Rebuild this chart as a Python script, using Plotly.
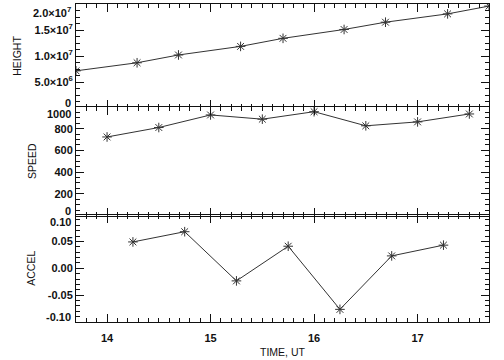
import plotly.graph_objects as go
from plotly.subplots import make_subplots

# ---- data ----
height_time = [13.70, 14.29, 14.69, 15.29, 15.70, 16.29, 16.69, 17.29, 17.69]
height_val = [7.15e6, 8.7e6, 1.02e7, 1.185e7, 1.34e7, 1.51e7, 1.65e7, 1.81e7, 1.96e7]

speed_time = [14.0, 14.5, 15.0, 15.5, 16.0, 16.5, 17.0, 17.5]
speed_val = [724, 811, 927, 888, 957, 827, 863, 936]

accel_time = [14.25, 14.75, 15.25, 15.75, 16.25, 16.75, 17.25]
accel_val = [0.049, 0.068, -0.0235, 0.041, -0.0765, 0.023, 0.043]

x_ticks = [14, 15, 16, 17]
height_ticks = [0, 5e6, 1e7, 1.5e7, 2e7]
height_labels = ["0", "5.0×10<sup>6</sup>", "1.0×10<sup>7</sup>", "1.5×10<sup>7</sup>", "2.0×10<sup>7</sup>"]
speed_ticks = [0, 200, 400, 600, 800, 1000]
speed_labels = ["0", "200", "400", "600", "800", "1000"]
accel_ticks = [-0.10, -0.05, 0.0, 0.05, 0.10]
accel_labels = ["-0.10", "-0.05", "0.00", "0.05", "0.10"]

FONT = "Liberation Sans"
INK = "#111111"
LINE = "#333333"
TICKFONT = dict(family=FONT, size=11, color=INK, weight="bold")
TITLEFONT = dict(family=FONT, size=10.5, color=INK)

fig = make_subplots(rows=3, cols=1, shared_xaxes=True, vertical_spacing=0)

series = [(height_time, height_val), (speed_time, speed_val), (accel_time, accel_val)]
for i, (t, v) in enumerate(series, start=1):
    fig.add_trace(go.Scatter(
        x=t, y=v, mode="lines+markers",
        line=dict(color=LINE, width=1),
        marker=dict(symbol="asterisk-open", size=8, color=LINE,
                    line=dict(color=LINE, width=1)),
        showlegend=False), row=i, col=1)

H = 321.0
dom = {1: [216 / H, 1.0], 2: [107.5 / H, 217 / H], 3: [0.0, 108.5 / H]}

common_axis = dict(showline=True, linecolor=INK, linewidth=1, mirror="ticks",
                   ticks="inside", ticklen=8, tickcolor=INK, tickwidth=1,
                   showgrid=False, zeroline=False, tickfont=TICKFONT)

for i in (1, 2, 3):
    fig.update_xaxes(row=i, col=1, range=[13.70, 17.69], tickmode="array",
                     tickvals=x_ticks, ticktext=[str(v) for v in x_ticks],
                     minor=dict(tickmode="linear", tick0=0, dtick=0.1, ticklen=4,
                                ticks="inside", tickcolor=INK, showgrid=False),
                     showticklabels=(i == 3), ticklabelstandoff=6, **common_axis)

fig.update_xaxes(row=3, col=1, title=dict(text="TIME, UT", standoff=5, font=TITLEFONT))

axes_spec = [
    (1, [0, 2e7], height_ticks, height_labels, 1.25e6, "HEIGHT", 10),
    (2, [0, 1000], speed_ticks, speed_labels, 50, "SPEED", 15),
    (3, [-0.1, 0.1], accel_ticks, accel_labels, 0.01, "ACCEL", 10),
]
for row, rng, tv, tt, mdt, title, so in axes_spec:
    shown = [""] + tt[1:-1] + [""]
    fig.update_yaxes(row=row, col=1, range=rng, domain=dom[row], tickmode="array",
                     tickvals=tv, ticktext=shown,
                     minor=dict(tickmode="linear", tick0=rng[0], dtick=mdt, ticklen=4,
                                ticks="inside", tickcolor=INK, showgrid=False),
                     title=dict(text=title, standoff=so, font=TITLEFONT),
                     **common_axis)
    # end labels, pushed inside the panel as in the reference
    yname = "y" if row == 1 else f"y{row}"
    fig.add_annotation(xref="paper", yref=yname, x=0, y=rng[1], text=tt[-1],
                       xanchor="right", yanchor="top", xshift=-3, yshift=1,
                       showarrow=False, font=TICKFONT)
    fig.add_annotation(xref="paper", yref=yname, x=0, y=rng[0], text=tt[0],
                       xanchor="right", yanchor="bottom", xshift=-3, yshift=-3,
                       showarrow=False, font=TICKFONT)

fig.update_layout(width=504, height=360,
                  margin=dict(l=76, r=15, t=3, b=36),
                  paper_bgcolor="white", plot_bgcolor="white",
                  font=dict(family=FONT, size=11, color=INK))

fig.write_html("out.html", config={"displayModeBar": False},
               post_script="document.body.style.margin='0';")
